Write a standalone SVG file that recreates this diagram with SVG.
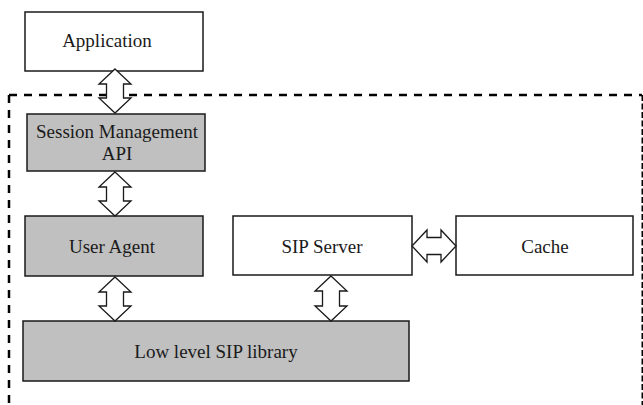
<svg xmlns="http://www.w3.org/2000/svg" width="643" height="405" viewBox="0 0 643 405">
  <style>
    .box { stroke: #1a1a1a; stroke-width: 1.5; }
    .white { fill: #ffffff; }
    .gray { fill: #c0c0c0; }
    .lbl { font-family: "Liberation Serif", "Times New Roman", serif; font-size: 19px; fill: #1a1a1a; text-anchor: middle; }
    .frame { fill: none; stroke: #000000; stroke-width: 2.5; stroke-dasharray: 8 7; }
    .frame-r { fill: none; stroke: #000000; stroke-width: 3; stroke-dasharray: 6 2.5; }
    .dbl { fill: #ffffff; stroke: #1a1a1a; stroke-width: 1.3; stroke-linejoin: miter; }
  </style>

  <!-- dashed boundary of the SIP stack -->
  <g id="boundary">
    <path class="frame" d="M9,95 L642,95"/>
    <path class="frame" d="M9,95 L9,405"/>
    <path class="frame-r" d="M643,95 L643,405"/>
  </g>

  <g id="application">
    <rect class="box white" x="25" y="12" width="178" height="59"/>
    <text class="lbl" x="107" y="47">Application</text>
  </g>

  <g id="session-management-api">
    <rect class="box gray" x="27" y="114" width="178" height="57"/>
    <text class="lbl" x="117" y="138">Session Management</text>
    <text class="lbl" x="117" y="160">API</text>
  </g>

  <g id="user-agent">
    <rect class="box gray" x="25" y="216" width="178" height="60"/>
    <text class="lbl" x="112" y="253">User Agent</text>
  </g>

  <g id="sip-server">
    <rect class="box white" x="233" y="216" width="179" height="59"/>
    <text class="lbl" x="322" y="253">SIP Server</text>
  </g>

  <g id="cache">
    <rect class="box white" x="456" y="216" width="177" height="59"/>
    <text class="lbl" x="545" y="253">Cache</text>
  </g>

  <g id="low-level-sip-library">
    <rect class="box gray" x="23" y="321" width="386" height="60"/>
    <text class="lbl" x="216" y="358">Low level SIP library</text>
  </g>

  <!-- double-headed block arrows between layers -->
  <g id="connectors">
    <path class="dbl" d="M115,69 L131,84 L123.5,84 L123.5,98 L131,98 L115,113 L99,98 L106.5,98 L106.5,84 L99,84 Z"/>
    <path class="dbl" d="M115,172 L131,187 L123.5,187 L123.5,201 L131,201 L115,216 L99,201 L106.5,201 L106.5,187 L99,187 Z"/>
    <path class="dbl" d="M115,277 L131,292 L123.5,292 L123.5,306 L131,306 L115,321 L99,306 L106.5,306 L106.5,292 L99,292 Z"/>
    <path class="dbl" d="M331,276 L347,291 L339.5,291 L339.5,306 L347,306 L331,321 L315,306 L322.5,306 L322.5,291 L315,291 Z"/>
    <path class="dbl" d="M412,246 L427,230 L427,237.5 L441,237.5 L441,230 L456,246 L441,262 L441,254.5 L427,254.5 L427,262 Z"/>
  </g>
</svg>
